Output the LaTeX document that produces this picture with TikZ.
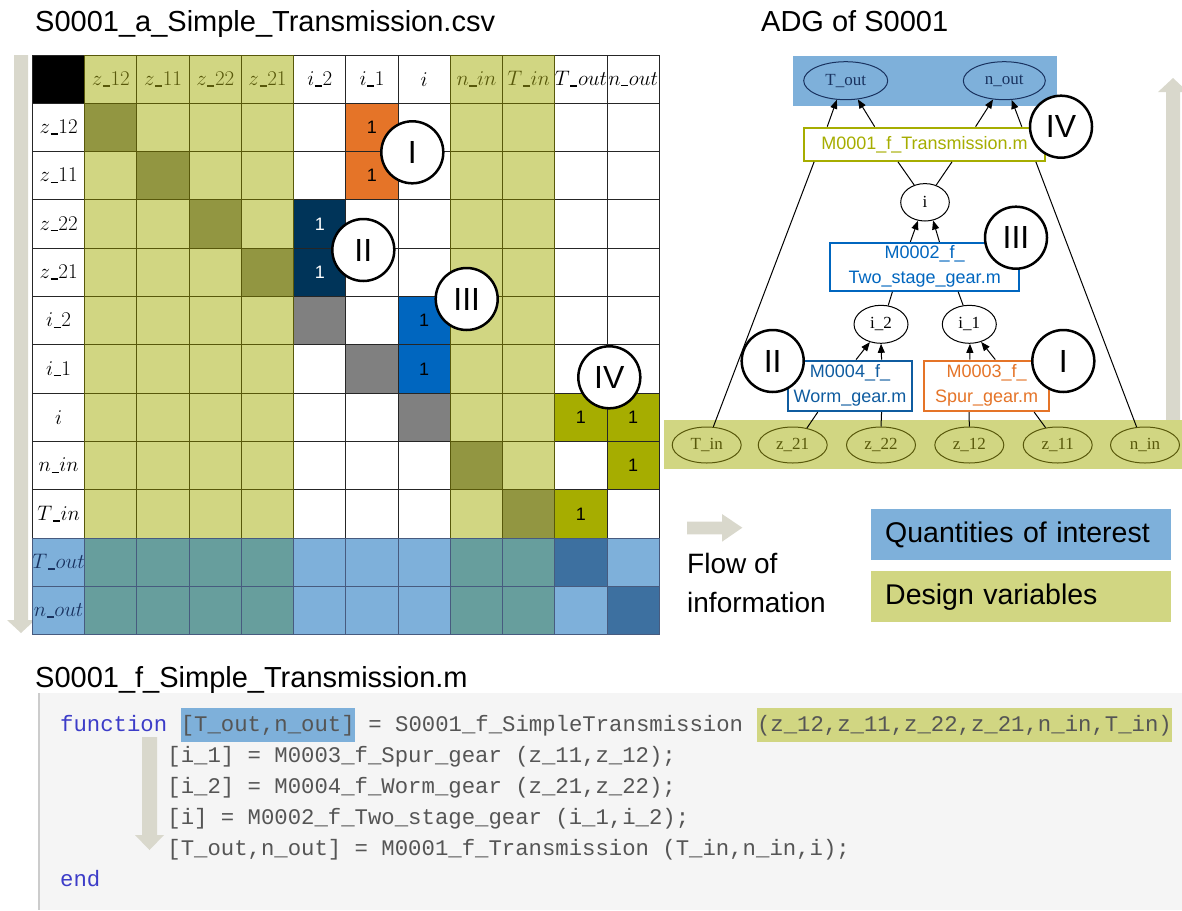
\RequirePackage{fix-cm}
\documentclass[tikz,border=0pt]{standalone}
\usepackage[no-math]{fontspec}
\setmainfont{Liberation Sans}
\setmonofont{Liberation Mono}
\newfontfamily\adgserif{Liberation Serif}
\usepackage{amsmath}
\usetikzlibrary{shapes.geometric,arrows.meta,calc}

\definecolor{olivelight}{RGB}{209,214,130}
\definecolor{olivediag}{RGB}{146,150,65}
\definecolor{olivedark}{RGB}{88,88,10}
\definecolor{olivestrong}{RGB}{166,173,0}
\definecolor{bluelight}{RGB}{126,176,218}
\definecolor{bluediag}{RGB}{61,112,160}
\definecolor{tealmix}{RGB}{103,158,157}
\definecolor{navydark}{RGB}{0,52,89}
\definecolor{navytxt}{RGB}{25,50,95}
\definecolor{bluemid}{RGB}{0,102,191}
\definecolor{bluewrm}{RGB}{15,92,160}
\definecolor{orangespur}{RGB}{229,116,40}
\definecolor{flowgray}{RGB}{217,216,204}
\definecolor{codebg}{RGB}{245,245,245}
\definecolor{codetxt}{RGB}{85,85,85}
\definecolor{codekw}{RGB}{60,60,200}

% matris etiketlerindeki kisa alt cizgi
\newcommand{\lbar}{\mbox{\kern0.6pt\rule[-1.2pt]{0.34em}{1.5pt}\kern0.6pt}}

\tikzset{
  badge/.style={circle, draw=black, line width=2.5pt, fill=white, minimum size=62pt, inner sep=0pt, font=\fontsize{32}{32}\selectfont},
  varnode/.style={ellipse, draw, line width=1pt, inner sep=0pt, font=\adgserif\fontsize{17}{17}\selectfont},
  dvar/.style={varnode, draw=olivedark, text=olivedark, minimum width=69pt, minimum height=36pt},
  fnbox/.style={rectangle, draw, line width=2.2pt, fill=white, inner sep=0pt, align=center, font=\fontsize{18}{25}\selectfont},
  lab/.style={font=\fontsize{21}{21}\selectfont},
  one/.style={font=\fontsize{18}{18}\selectfont},
  codeline/.style={anchor=base west, inner sep=0pt, text=codetxt, font=\ttfamily\fontsize{22.3}{22.3}\selectfont},
  hl/.style={text height=23pt, text depth=11pt},
  dep/.style={line width=1pt},
  arr/.style={dep, -{Triangle[length=9pt,width=7pt]}},
  title/.style={anchor=base west, inner sep=0pt, font=\fontsize{29}{29}\selectfont},
  legbox/.style={anchor=north west, inner xsep=14pt, inner ysep=0pt, text width=272pt, minimum height=51pt, align=left, font=\fontsize{28.5}{28.5}\selectfont},
}

\begin{document}
\begin{tikzpicture}[x=1pt, y=-1pt]
    \useasboundingbox (0,0) rectangle (1182,910);

    % Basliklar
    \node[title] (csv-title) at (35,31) {S0001\_a\_Simple\_Transmission.csv};
    \node[title] (adg-title) at (761,31) {ADG of S0001};
    \node[title] (m-title) at (35,687) {S0001\_f\_Simple\_Transmission.m};

    % Sol akis oku
    \fill[flowgray] (14,55) -- (28,55) -- (28,620) -- (35,620) -- (21,633) -- (7,620) -- (14,620) -- cycle;

    % Matris
    \begin{scope}[shift={(32.5,55)}, x=52.23pt, y=-48.3pt]
        \fill[white] (0,0) rectangle (12,12);
        \foreach \c in {1,2,3,4,8,9}
            \fill[olivelight] (\c,0) rectangle (\c+1,10);
        \fill[bluelight] (0,10) rectangle (12.02,12);
        \foreach \c in {1,2,3,4,8,9}
            \fill[tealmix] (\c,10) rectangle (\c+1,12);

        % kosegen
        \foreach \c in {1,2,3,4,8,9}
            \fill[olivediag] (\c,\c) rectangle (\c+1,\c+1);
        \foreach \c in {5,6,7}
            \fill[gray] (\c,\c) rectangle (\c+1,\c+1);
        \foreach \c in {10,11}
            \fill[bluediag] (\c,\c) rectangle (\c+1,\c+1);

        % bagimliliklar
        \fill[orangespur] (6,1) rectangle (7,3);
        \fill[navydark] (5,3) rectangle (6,5);
        \fill[bluemid] (7,5) rectangle (8,7);
        \fill[olivestrong] (10,7) rectangle (12,8);
        \fill[olivestrong] (11,8) rectangle (12,9);
        \fill[olivestrong] (10,9) rectangle (11,10);
        \fill[black] (0,0) rectangle (1,1);

        % izgara
        \foreach \k in {0,...,12} {
            \draw[line width=1pt, black!85] (\k,0) -- (\k,12);
            \draw[line width=1pt, black!85] (0,\k) -- (12,\k);
        }
        \foreach \c in {1,2,3,4,8,9}
            \foreach \r in {0,...,9}
                \draw[line width=1pt, olivedark] (\c,\r) rectangle (\c+1,\r+1);
        \foreach \c in {0,...,11}
            \foreach \r in {10,11}
                \draw[line width=1pt, navytxt!80] (\c,\r) rectangle (\c+1,\r+1);

        % etiketler
        \foreach \c/\lab/\tc in {1/z\lbar 12/olivedark, 2/z\lbar 11/olivedark, 3/z\lbar 22/olivedark, 4/z\lbar 21/olivedark, 5/i\lbar 2/black, 6/i\lbar 1/black, 7/i/black, 8/n\lbar in/olivedark, 9/T\lbar in/olivedark, 10/T\lbar out/black, 11/n\lbar out/black}
            \node[lab, text=\tc] (col-\c) at (\c+0.5,0.5) {$\lab$};
        \foreach \c/\lab/\tc in {1/z\lbar 12/black, 2/z\lbar 11/black, 3/z\lbar 22/black, 4/z\lbar 21/black, 5/i\lbar 2/black, 6/i\lbar 1/black, 7/i/black, 8/n\lbar in/black, 9/T\lbar in/black, 10/T\lbar out/navytxt, 11/n\lbar out/navytxt}
            \node[lab, text=\tc] (row-\c) at (0.5,\c+0.5) {$\lab$};

        \foreach \c/\r/\nm in {6/1/a, 6/2/b, 7/5/e, 7/6/f, 10/7/g, 11/7/h, 11/8/k, 10/9/l}
            \node[one] (one-\nm) at (\c+0.5,\r+0.5) {1};
        \foreach \c/\r/\nm in {5/3/c, 5/4/d}
            \node[one, text=white] (one-\nm) at (\c+0.5,\r+0.5) {1};
    \end{scope}

    % Matris numaralari
    \node[badge] (mat-I) at (412.3,152.3) {I};
    \node[badge] (mat-II) at (363.3,250) {II};
    \node[badge] (mat-III) at (466.7,299) {III};
    \node[badge] (mat-IV) at (609.3,377.3) {IV};

    % ADG bantlari ve yukari ok
    \fill[flowgray] (1166,426) -- (1166,92) -- (1158,92) -- (1173,78) -- (1188,92) -- (1180,92) -- (1180,426) -- cycle;
    \fill[bluelight] (793,56) rectangle (1057,106);
    \fill[olivelight] (664,420) rectangle (1182,469);

    % ADG dugumleri
    \node[varnode, draw=navytxt, text=navytxt, minimum width=84pt, minimum height=38pt] (tout) at (845.7,80.7) {T\_out};
    \node[varnode, draw=navytxt, text=navytxt, minimum width=82pt, minimum height=38pt] (nout) at (1004.3,80.7) {n\_out};
    \node[fnbox, draw=olivestrong, text=olivestrong, minimum width=241pt, minimum height=33pt] (m1) at (924.5,144.3) {M0001\_f\_Transmission.m};
    \node[varnode, minimum width=48.6pt, minimum height=37.4pt] (vi) at (925,202.3) {i};
    \node[fnbox, draw=bluemid, text=bluemid, minimum width=189pt, minimum height=47.7pt] (m2) at (924.7,266.8) {M0002\_f\_\\Two\_stage\_gear.m};
    \node[varnode, minimum width=54pt, minimum height=38pt] (vi2) at (881,324.3) {i\_2};
    \node[varnode, minimum width=54pt, minimum height=38pt] (vi1) at (969.3,324.3) {i\_1};
    \node[fnbox, draw=bluewrm, text=bluewrm, minimum width=124.6pt, minimum height=50.3pt] (m4) at (850,385.8) {M0004\_f\_\\Worm\_gear.m};
    \node[fnbox, draw=orangespur, text=orangespur, minimum width=125.3pt, minimum height=50.3pt] (m3) at (986.7,385.8) {M0003\_f\_\\Spur\_gear.m};
    \node[dvar] (tin) at (706.7,445) {T\_in};
    \node[dvar] (z21) at (792.7,445) {z\_21};
    \node[dvar] (z22) at (881,445) {z\_22};
    \node[dvar] (z12) at (969.3,445) {z\_12};
    \node[dvar] (z11) at (1057.7,445) {z\_11};
    \node[dvar] (nin) at (1145,445) {n\_in};

    % ADG kenarlari
    \draw[arr] ($(m1.north west)!0.10!(m1.north east)$) -- (tout.-115);
    \draw[arr] ($(m1.north west)!0.295!(m1.north east)$) -- (tout.-57);
    \draw[arr] ($(m1.north west)!0.71!(m1.north east)$) -- (nout.-121);
    \draw[arr] ($(m1.north west)!0.90!(m1.north east)$) -- (nout.-69);
    \draw[dep] (tin.70) -- ($(m1.south west)!0.046!(m1.south east)$);
    \draw[dep] (nin.115) -- ($(m1.south west)!0.958!(m1.south east)$);
    \draw[dep] (vi.122) -- ($(m1.south west)!0.391!(m1.south east)$);
    \draw[dep] (vi.57) -- ($(m1.south west)!0.613!(m1.south east)$);
    \draw[arr] ($(m2.north west)!0.425!(m2.north east)$) -- (vi.-111);
    \draw[arr] ($(m2.north west)!0.577!(m2.north east)$) -- (vi.-66);
    \draw[dep] (vi2.69) -- ($(m2.south west)!0.331!(m2.south east)$);
    \draw[dep] (vi1.108) -- ($(m2.south west)!0.675!(m2.south east)$);
    \draw[arr] ($(m4.north west)!0.548!(m4.north east)$) -- (vi2.-122);
    \draw[arr] ($(m4.north west)!0.749!(m4.north east)$) -- (vi2.-90);
    \draw[arr] ($(m3.north west)!0.367!(m3.north east)$) -- (vi1.-88);
    \draw[arr] ($(m3.north west)!0.567!(m3.north east)$) -- (vi1.-56);
    \draw[dep] (z21.50) -- ($(m4.south west)!0.246!(m4.south east)$);
    \draw[dep] (z22.90) -- ($(m4.south west)!0.749!(m4.south east)$);
    \draw[dep] (z12.90) -- ($(m3.south west)!0.362!(m3.south east)$);
    \draw[dep] (z11.125) -- ($(m3.south west)!0.872!(m3.south east)$);

    % ADG numaralari
    \node[badge] (adg-IV) at (1061,126.7) {IV};
    \node[badge] (adg-III) at (1016,237.7) {III};
    \node[badge] (adg-II) at (772.7,361) {II};
    \node[badge] (adg-I) at (1063.3,361) {I};

    % Lejant
    \fill[flowgray] (687,521.7) -- (722,521.7) -- (722,514) -- (742.3,527.7) -- (722,541.7) -- (722,534.3) -- (687,534.3) -- cycle;
    \node[title, font=\fontsize{28}{28}\selectfont] (flow-a) at (687,573) {Flow of};
    \node[title, font=\fontsize{28}{28}\selectfont] (flow-b) at (687,612) {information};
    \node[legbox, fill=bluelight] (leg-qoi) at (871,509) {Quantities of interest};
    \node[legbox, fill=olivelight] (leg-dv) at (871,571) {Design variables};

    % Kod
    \fill[codebg] (38,693) rectangle (1182,910);
    \draw[line width=2pt, black!20] (39,693) -- (39,910);
    \fill[flowgray] (142,737) -- (157,737) -- (157,835) -- (164,835) -- (149.5,850) -- (135,835) -- (142,835) -- cycle;
    \node[codeline, text=codekw] (kw-func) at (60,731) {function};
    \node[codeline, hl, fill=bluelight] (out-args) at (180.6,731) {[T\_out,n\_out]};
    \node[codeline] (sig) at (368.2,731) {= S0001\_f\_SimpleTransmission};
    \node[codeline, hl, fill=olivelight] (in-args) at (756.8,731) {(z\_12,z\_11,z\_22,z\_21,n\_in,T\_in)};
    \node[codeline] (call-a) at (167.2,762) {[i\_1] = M0003\_f\_Spur\_gear (z\_11,z\_12);};
    \node[codeline] (call-b) at (167.2,793) {[i\_2] = M0004\_f\_Worm\_gear (z\_21,z\_22);};
    \node[codeline] (call-c) at (167.2,824) {[i] = M0002\_f\_Two\_stage\_gear (i\_1,i\_2);};
    \node[codeline] (call-d) at (167.2,855) {[T\_out,n\_out] = M0001\_f\_Transmission (T\_in,n\_in,i);};
    \node[codeline, text=codekw] (kw-end) at (60,886) {end};
\end{tikzpicture}
\end{document}
